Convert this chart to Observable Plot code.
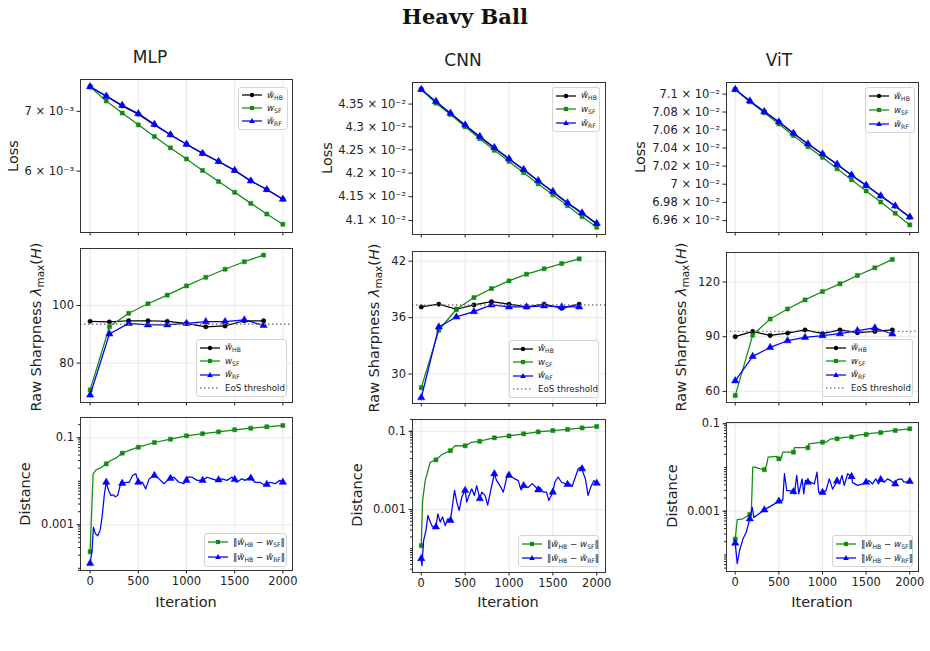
<!DOCTYPE html>
<html><head><meta charset="utf-8">
<script src="https://cdn.jsdelivr.net/npm/d3@7"></script>
<script src="https://cdn.jsdelivr.net/npm/@observablehq/plot@0.6"></script>
<style>
body{margin:0;background:#fff;}
#root{position:relative;width:930px;height:651px;overflow:hidden;font-family:"DejaVu Sans",sans-serif;color:#222;background:#fff;}
.t{position:absolute;white-space:nowrap;transform:translate(-50%,-50%);line-height:1;}
.rot{transform:translate(-50%,-50%) rotate(-90deg);}
.leg{position:absolute;border:1px solid #d4d4d4;border-radius:3px;background:rgba(255,255,255,0.85);font-size:8.7px;box-sizing:border-box;padding:1px 3px;display:flex;flex-direction:column;justify-content:space-around;}
.leg .row{display:flex;align-items:center;white-space:nowrap;line-height:1;}
.leg svg{margin-right:5px;flex:none;}
.w{font-style:italic;}
sub{font-size:70%;vertical-align:-0.3em;line-height:0;}
.panel{position:absolute;}
</style></head><body><div id="root"></div>
<script>
// ---------------- data ----------------
const iters13 = [0,167,333,500,667,833,1000,1167,1333,1500,1667,1833,2000];
const iters10 = [0,200,400,600,800,1000,1200,1400,1600,1800];
const xTicks = [0,500,1000,1500,2000];

// Loss
const mlpLossHB = [7.46e-3,7.28e-3,7.10e-3,6.95e-3,6.76e-3,6.59e-3,6.43e-3,6.28e-3,6.15e-3,6.01e-3,5.85e-3,5.72e-3,5.58e-3];
const mlpLossSF = [7.46e-3,7.19e-3,6.97e-3,6.76e-3,6.56e-3,6.37e-3,6.19e-3,6.01e-3,5.84e-3,5.68e-3,5.52e-3,5.37e-3,5.23e-3];
const mlpLossRF = [7.46e-3,7.28e-3,7.11e-3,6.96e-3,6.77e-3,6.59e-3,6.43e-3,6.28e-3,6.15e-3,6.01e-3,5.85e-3,5.72e-3,5.58e-3];
const cnnLossHB = [0.043825,0.04355,0.04329,0.04303,0.04278,0.04254,0.04230,0.04207,0.04183,0.04160,0.04136,0.04115,0.04093];
const cnnLossSF = [0.043825,0.04352,0.04327,0.04300,0.04274,0.04249,0.04225,0.04201,0.04177,0.04154,0.04131,0.04108,0.04086];
const cnnLossRF = [0.043825,0.04356,0.04330,0.04304,0.04279,0.04255,0.04231,0.04208,0.04184,0.04161,0.04137,0.04116,0.04094];
const vitLossHB = [0.071052,0.070922,0.070803,0.070689,0.070563,0.070444,0.070333,0.070219,0.070100,0.069986,0.069870,0.069759,0.069637];
const vitLossSF = [0.071052,0.070914,0.070792,0.070667,0.070537,0.070415,0.070297,0.070170,0.070048,0.069926,0.069804,0.069681,0.069553];
const vitLossRF = [0.071052,0.070924,0.070805,0.070691,0.070565,0.070446,0.070335,0.070221,0.070102,0.069988,0.069872,0.069761,0.069640];

// Sharpness
const mlpSharpHB = [94.5,94.3,94.7,94.7,94.5,93.8,92.6,92.9,94.7,94.7];
const mlpSharpSF = [70.7,92.6,97.3,100.6,103.6,106.8,109.8,112.6,115.2,117.5];
const mlpSharpRF = [68.9,90.1,93.8,93.3,93.3,93.8,94.4,94.4,95.0,93.1];
const cnnSharpHB = [37.14,37.43,36.89,37.35,37.70,37.43,37.14,37.43,37.0,37.43];
const cnnSharpSF = [28.55,34.66,36.89,38.13,39.09,39.9,40.62,41.19,41.75,42.25];
const cnnSharpRF = [27.48,35.01,36.07,36.64,37.35,37.14,37.14,37.25,37.14,37.14];
const vitSharpHB = [90,92.9,90.7,92.0,93.7,91.7,93.7,92.2,92.9,93.7];
const vitSharpSF = [57.7,90.9,99.7,105.2,110.2,114.8,119.0,123.6,127.8,132.4];
const vitSharpRF = [65.8,79.2,84.1,87.8,89.6,90.6,91.7,93.3,94.8,91.5];
const eosThreshold = {mlp: 93.5, cnn: 37.35, vit: 92.9};

// Distance [iteration, value]
const mlpDistSF = [[0,2.4e-4],[31,0.0149],[62,0.0184],[110,0.0204],[167,0.0252],[214,0.030],[265,0.034],[333,0.0443],[420,0.053],[500,0.0608],[667,0.078],[833,0.093],[1000,0.111],[1167,0.124],[1333,0.137],[1500,0.153],[1667,0.166],[1833,0.179],[2000,0.192]];
const mlpDistRF = [[0,1.3e-4],[20,2.6e-4],[34,8.8e-4],[55,6.2e-4],[79,5.6e-4],[103,7.4e-4],[124,1.5e-3],[148,5.1e-3],[167,9.5e-3],[192,6.1e-3],[216,4.7e-3],[241,4.9e-3],[261,4.4e-3],[285,4.7e-3],[320,9.5e-3],[333,9.0e-3],[344,8.8e-3],[371,9.5e-3],[405,9.5e-3],[440,0.0136],[474,0.0149],[500,0.0095],[543,0.0095],[577,0.0067],[612,0.0114],[667,0.0136],[715,0.0114],[766,0.0088],[818,0.0114],[833,0.0117],[869,0.0124],[921,0.0095],[973,0.0088],[1000,0.0105],[1007,0.0124],[1058,0.0124],[1110,0.0105],[1167,0.0105],[1213,0.0124],[1265,0.0114],[1316,0.0105],[1333,0.0108],[1368,0.0114],[1419,0.0105],[1471,0.0124],[1500,0.0110],[1522,0.0095],[1574,0.0114],[1608,0.0105],[1660,0.0124],[1667,0.0118],[1711,0.0095],[1763,0.0095],[1815,0.0080],[1833,0.0085],[1866,0.0095],[1918,0.0088],[1969,0.0105],[2000,0.0095]];
const cnnDistSF = [[0,1.2e-4],[15,1.7e-3],[45,0.0055],[102,0.0162],[167,0.0186],[235,0.0255],[333,0.032],[386,0.043],[500,0.0425],[575,0.0524],[667,0.0556],[750,0.062],[833,0.068],[1000,0.076],[1167,0.086],[1333,0.0966],[1500,0.104],[1667,0.112],[1833,0.122],[2000,0.132]];
const cnnDistRF = [[0,5.6e-5],[8,3.7e-5],[26,1.6e-4],[53,2.9e-4],[76,7.1e-4],[102,4.8e-4],[129,3.6e-4],[167,3.6e-4],[189,7.8e-4],[216,4.8e-4],[242,6.5e-4],[273,3.9e-4],[303,5.8e-4],[333,5.3e-4],[348,9.5e-4],[379,3.1e-3],[405,1.55e-3],[432,9.5e-4],[462,2.1e-3],[500,3.1e-3],[519,1.55e-3],[545,2.3e-3],[575,3.4e-3],[606,2.3e-3],[632,4.1e-3],[667,1.9e-3],[689,2.8e-3],[727,2.3e-3],[757,1.3e-3],[795,3.4e-3],[833,8.2e-3],[859,5.5e-3],[897,4.1e-3],[935,2.8e-3],[985,8.2e-3],[1000,7.5e-3],[1030,6.8e-3],[1068,6.1e-3],[1106,5.5e-3],[1136,3.2e-3],[1167,4.1e-3],[1220,3.7e-3],[1265,4.6e-3],[1333,3.2e-3],[1352,3.7e-3],[1390,2.8e-3],[1428,2.8e-3],[1454,1.7e-3],[1500,2.8e-3],[1522,5e-3],[1560,6.8e-3],[1598,5e-3],[1667,4.4e-3],[1682,4.7e-3],[1719,3.9e-3],[1750,6.1e-3],[1788,0.011],[1818,0.012],[1833,0.011],[1844,8.9e-3],[1871,6.1e-3],[1901,2.3e-3],[1931,3.7e-3],[1969,5.5e-3],[2000,4.7e-3]];
const vitDistSF = [[0,2.3e-4],[23,6.4e-4],[88,6.7e-4],[167,8.4e-4],[184,9e-4],[201,0.0102],[227,0.0102],[284,0.0093],[333,0.0089],[358,0.0112],[377,0.0173],[472,0.0179],[500,0.0158],[526,0.016],[545,0.0224],[667,0.0224],[678,0.0283],[833,0.0283],[842,0.0348],[1000,0.038],[1040,0.038],[1097,0.0454],[1167,0.0454],[1249,0.049],[1333,0.050],[1420,0.056],[1500,0.057],[1573,0.061],[1667,0.063],[1725,0.0667],[1833,0.0703],[2000,0.0767]];
const vitDistRF = [[0,1.86e-4],[23,6.3e-5],[50,1.26e-4],[88,2.3e-4],[126,3.3e-4],[167,6.7e-4],[195,1.23e-3],[214,7.2e-4],[259,8.4e-4],[333,1.07e-3],[450,1.47e-3],[500,1.7e-3],[545,1.8e-3],[564,7.2e-3],[591,2.95e-3],[621,2.95e-3],[667,2.8e-3],[678,2.5e-3],[705,6.6e-3],[728,2.5e-3],[766,5.5e-3],[785,2.5e-3],[804,5.1e-3],[833,4.6e-3],[869,4.6e-3],[907,4.2e-3],[937,7.8e-3],[956,2.7e-3],[1000,2.7e-3],[1040,2.95e-3],[1078,5.5e-3],[1116,3.2e-3],[1167,4.9e-3],[1193,4.2e-3],[1223,6.6e-3],[1249,3.9e-3],[1288,7.2e-3],[1333,6.2e-3],[1345,4.5e-3],[1402,3.9e-3],[1459,4.2e-3],[1500,4.6e-3],[1535,5.0e-3],[1573,4.2e-3],[1611,5.5e-3],[1641,4.2e-3],[1667,5.3e-3],[1706,4.6e-3],[1744,5.5e-3],[1782,5.0e-3],[1833,4.2e-3],[1858,5.3e-3],[1908,5.5e-3],[1934,4.6e-3],[2000,4.8e-3]];

// tick values and labels
const mlpLossTicks = [6e-3, 7e-3];
const mlpLossLabels = ["6 × 10⁻³", "7 × 10⁻³"];
const cnnLossTicks = [0.041,0.0415,0.042,0.0425,0.043,0.0435];
const cnnLossLabels = ["4.1 × 10⁻²","4.15 × 10⁻²","4.2 × 10⁻²","4.25 × 10⁻²","4.3 × 10⁻²","4.35 × 10⁻²"];
const vitLossTicks = [0.0696,0.0698,0.0700,0.0702,0.0704,0.0706,0.0708,0.0710];
const vitLossLabels = ["6.96 × 10⁻²","6.98 × 10⁻²","7 × 10⁻²","7.02 × 10⁻²","7.04 × 10⁻²","7.06 × 10⁻²","7.08 × 10⁻²","7.1 × 10⁻²"];
const distTicks = [0.001, 0.1];
const distLabels = ["0.001", "0.1"];

// ---------------- drawing ----------------
const C = {HB: "#000000", SF: "#138a13", RF: "#0000ff"};
const root = document.getElementById("root");
const markerSet = new Set(iters13);
const minorLog = [];
for (let e = -6; e <= 0; e++) for (let k = 1; k <= 9; k++) minorLog.push(k * Math.pow(10, e));

function labeler(ticks, labels) {
  const m = new Map(ticks.map((t, i) => [t, labels[i]]));
  return d => m.has(d) ? m.get(d) : "";
}

function series(xs, ys) { return xs.map((x, i) => ({x, y: ys[i]})); }
function pairs(arr) { return arr.map(([x, y]) => ({x, y})); }

function seriesMarks(data, color, symbol, opts = {}) {
  return [
    Plot.line(data, {x: "x", y: "y", stroke: color, strokeWidth: 1.25}),
    Plot.dot(data, {x: "x", y: "y", symbol, fill: color, stroke: color, strokeWidth: 0.5,
      r: symbol === "circle" ? 2.2 : symbol === "square" ? 2.3 : 2.7,
      filter: opts.filter})
  ];
}

function panel(o) {
  const ML = 80, MR = 6, MT = 6, MB = 24;
  const ydom = o.yDomain;
  const marks = [
    Plot.gridX(xTicks, {stroke: "#b0b0b0", strokeOpacity: 0.35, strokeWidth: 0.8}),
  ];
  if (o.gridY) marks.push(Plot.gridY(o.gridY, {stroke: "#b0b0b0", strokeOpacity: 0.35, strokeWidth: 0.8}));
  marks.push(...o.marks);
  marks.push(Plot.axisX({ticks: xTicks, tickSize: 3.5, tickPadding: 3, label: null,
    tickFormat: o.showX ? (d => String(d)) : (() => "")}));
  if (o.yMinor) marks.push(Plot.axisY({ticks: o.yMinor.filter(v => v >= ydom[0] && v <= ydom[1]), tickSize: 2, tickFormat: () => "", label: null}));
  marks.push(Plot.axisY({ticks: o.yTicks, tickSize: 3.5, tickPadding: 3, label: null, tickFormat: o.yFmt}));
  marks.push(Plot.frame({stroke: "#333", strokeWidth: 1}));
  const svg = Plot.plot({
    width: o.w + ML + MR, height: o.h + MT + MB,
    marginLeft: ML, marginRight: MR, marginTop: MT, marginBottom: MB,
    x: {domain: [-100, 2100]},
    y: {type: o.yType || "linear", domain: ydom},
    style: {background: "transparent", fontFamily: "DejaVu Sans", fontSize: "11.5px", color: "#222", overflow: "visible"},
    marks
  });
  const div = document.createElement("div");
  div.className = "panel";
  div.style.left = (o.x - ML) + "px";
  div.style.top = (o.y - MT) + "px";
  div.appendChild(svg);
  root.appendChild(div);
}

function text(html, x, y, style, rot) {
  const d = document.createElement("div");
  d.className = "t" + (rot ? " rot" : "");
  d.style.left = x + "px"; d.style.top = y + "px";
  d.style.cssText += style;
  d.innerHTML = html;
  root.appendChild(d);
}

function swatch(color, sym, dotted) {
  let m = "";
  if (sym === "circle") m = `<circle cx="10" cy="4" r="2.2" fill="${color}"/>`;
  if (sym === "square") m = `<rect x="7.9" y="1.9" width="4.2" height="4.2" fill="${color}"/>`;
  if (sym === "triangle") m = `<polygon points="10,1 12.8,6 7.2,6" fill="${color}"/>`;
  return `<svg width="20" height="8"><line x1="0" x2="20" y1="4" y2="4" stroke="${color}" stroke-width="${dotted ? 1.4 : 1.25}" ${dotted ? 'stroke-dasharray="1.4,2.6"' : ''}/>${m}</svg>`;
}
function legend(x, y, w, h, items) {
  const d = document.createElement("div");
  d.className = "leg";
  d.style.left = x + "px"; d.style.top = y + "px";
  d.style.width = w + "px"; d.style.height = h + "px";
  d.innerHTML = items.map(it => `<div class="row">${swatch(it.c, it.s, it.dot)}<span>${it.l}</span></div>`).join("");
  root.appendChild(d);
}

const wHB = `<span class="w">w̃</span><sub>HB</sub>`;
const wSF = `<span class="w">w</span><sub>SF</sub>`;
const wRF = `<span class="w">w̃</span><sub>RF</sub>`;
const lossItems = [{c: C.HB, s: "circle", l: wHB}, {c: C.SF, s: "square", l: wSF}, {c: C.RF, s: "triangle", l: wRF}];
const sharpItems = [...lossItems, {c: "#777", s: null, dot: true, l: "EoS threshold"}];
const distItems = [{c: C.SF, s: "square", l: `‖${wHB} − ${wSF}‖`}, {c: C.RF, s: "triangle", l: `‖${wHB} − ${wRF}‖`}];

const cols = [
  {key: "mlp", name: "MLP", x: 80, w: 212, rows: [[79,153],[248,154],[417,153]],
   loss: [mlpLossHB, mlpLossSF, mlpLossRF], lossDom: [5.12e-3, 7.60e-3], lossTicks: mlpLossTicks, lossLabels: mlpLossLabels,
   sharp: [mlpSharpHB, mlpSharpSF, mlpSharpRF], sharpDom: [66.3, 119.8], sharpTicks: [80, 100],
   dist: [mlpDistSF, mlpDistRF], distDom: [8.9e-5, 0.293]},
  {key: "cnn", name: "CNN", x: 412, w: 193, rows: [[82,152],[251,152],[419,153]],
   loss: [cnnLossHB, cnnLossSF, cnnLossRF], lossDom: [0.04071, 0.04398], lossTicks: cnnLossTicks, lossLabels: cnnLossLabels,
   sharp: [cnnSharpHB, cnnSharpSF, cnnSharpRF], sharpDom: [26.87, 43.03], sharpTicks: [30, 36, 42],
   dist: [cnnDistSF, cnnDistRF], distDom: [2.47e-5, 0.2]},
  {key: "vit", name: "ViT", x: 726, w: 192, rows: [[82,150],[252,150],[422,149]],
   loss: [vitLossHB, vitLossSF, vitLossRF], lossDom: [0.069470, 0.071130], lossTicks: vitLossTicks, lossLabels: vitLossLabels,
   sharp: [vitSharpHB, vitSharpSF, vitSharpRF], sharpDom: [53.9, 136.2], sharpTicks: [60, 90, 120],
   dist: [vitDistSF, vitDistRF], distDom: [4.17e-5, 0.107]}
];

for (const c of cols) {
  panel({x: c.x, y: c.rows[0][0], w: c.w, h: c.rows[0][1], yType: "log", yDomain: c.lossDom,
    yTicks: c.lossTicks, yFmt: labeler(c.lossTicks, c.lossLabels),
    marks: [
      ...seriesMarks(series(iters13, c.loss[0]), C.HB, "circle"),
      ...seriesMarks(series(iters13, c.loss[1]), C.SF, "square"),
      ...seriesMarks(series(iters13, c.loss[2]), C.RF, "triangle")
    ]});
  panel({x: c.x, y: c.rows[1][0], w: c.w, h: c.rows[1][1], yDomain: c.sharpDom,
    yTicks: c.sharpTicks, yFmt: d => String(d), gridY: c.sharpTicks,
    marks: [
      ...seriesMarks(series(iters10, c.sharp[0]), C.HB, "circle"),
      ...seriesMarks(series(iters10, c.sharp[1]), C.SF, "square"),
      ...seriesMarks(series(iters10, c.sharp[2]), C.RF, "triangle"),
      Plot.ruleY([eosThreshold[c.key]], {stroke: "#777", strokeWidth: 1.4, strokeDasharray: "1.4,2.6"})
    ]});
  panel({x: c.x, y: c.rows[2][0], w: c.w, h: c.rows[2][1], yType: "log", yDomain: c.distDom,
    yTicks: distTicks, yFmt: labeler(distTicks, distLabels), gridY: distTicks, yMinor: minorLog, showX: true,
    marks: [
      ...seriesMarks(pairs(c.dist[0]), C.SF, "square", {filter: d => markerSet.has(d.x)}),
      ...seriesMarks(pairs(c.dist[1]), C.RF, "triangle", {filter: d => markerSet.has(d.x)})
    ]});
}

legend(238, 87, 50, 43, lossItems);
legend(552, 87, 48, 45, lossItems);
legend(865, 87, 50, 46, lossItems);
legend(196, 339, 91, 58, sharpItems);
legend(509, 340, 90, 58, sharpItems);
legend(822, 339, 91, 58, sharpItems);
legend(204, 533, 83, 34, distItems);
legend(518, 535, 81, 32, distItems);
legend(832, 535, 81, 32, distItems);

text("Heavy Ball", 465, 16, "font-family:'DejaVu Serif',serif;font-weight:bold;font-size:21px;color:#111;");
const tf = "font-size:17px;";
text("MLP", 150, 57, tf); text("CNN", 463, 60, tf); text("ViT", 779, 60, tf);
const af = "font-size:14.5px;";
text("Loss", 13, 156, af, true); text("Loss", 327, 158, af, true); text("Loss", 640, 157, af, true);
const sh = `Raw Sharpness <span class="w">λ</span><sub style="font-size:72%">max</sub>(<span class="w">H</span>)`;
text(sh, 36, 327, af, true); text(sh, 374, 328, af, true); text(sh, 681, 327, af, true);
text("Distance", 25, 494, af, true); text("Distance", 357, 495, af, true); text("Distance", 672, 496, af, true);
text("Iteration", 186, 602, af); text("Iteration", 508, 602, af); text("Iteration", 822, 602, af);
</script></body></html>
